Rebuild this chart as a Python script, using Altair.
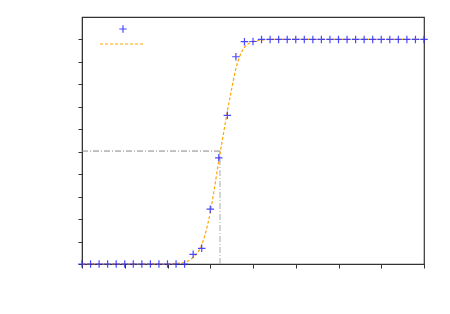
import altair as alt
import pandas as pd

# measured points (41 samples)
pt_x = list(range(41))
pt_y = [0.0] * 13 + [0.043, 0.07, 0.244, 0.473, 0.662, 0.923, 0.99, 0.991] + [1.0] * 20

# fitted curve
fit_x = [0, 10, 11, 12, 13, 14, 15, 15.5, 16, 16.5, 17, 17.5, 18, 18.5, 19, 19.5, 20, 21, 22, 40]
fit_y = [0, 0, 0.002, 0.008, 0.03, 0.085, 0.23, 0.34, 0.46, 0.57, 0.68, 0.78, 0.87, 0.93,
         0.965, 0.982, 0.99, 0.997, 1.0, 1.0]

# midpoint guides
mid_x = 16.14
mid_y = 0.503

pts = pd.DataFrame({"x": pt_x, "y": pt_y})
fit = pd.DataFrame({"x": fit_x, "y": fit_y})
hline = pd.DataFrame({"x": [0, mid_x], "y": [mid_y, mid_y]})
vline = pd.DataFrame({"x": [mid_x, mid_x], "y": [0, mid_y]})

plus = "M-1,0L1,0M0,-1L0,1"
blue = "#2a2aff"
orange = "#ffa500"

xs = alt.Scale(domain=[0, 40], nice=False)
ys = alt.Scale(domain=[0, 1.1], nice=False)
xax = alt.Axis(values=list(range(0, 41, 5)), labels=False, title=None, grid=False,
               tickSize=4, domainColor="#333", tickColor="#333")
yax = alt.Axis(values=[i / 10 for i in range(11)], labels=False, title=None, grid=False,
               tickSize=4, domainColor="#333", tickColor="#333")

X = alt.X("x:Q", scale=xs, axis=xax)
Y = alt.Y("y:Q", scale=ys, axis=yax)

guide_h = alt.Chart(hline).mark_line(color="#888", strokeWidth=1, strokeDash=[6, 2, 1, 2]).encode(x=X, y=Y)
guide_v = alt.Chart(vline).mark_line(color="#aaa", strokeWidth=1, strokeDash=[6, 2, 1, 2]).encode(x=X, y=Y)

fit_line = alt.Chart(fit).mark_line(color=orange, strokeWidth=1.2, strokeDash=[3, 2],
                                    interpolate="monotone").encode(x=X, y=Y)

points = alt.Chart(pts).mark_point(shape=plus, size=56, stroke=blue, strokeWidth=1.2,
                                   opacity=0.85, filled=False).encode(x=X, y=Y)

leg_pt = alt.Chart(pd.DataFrame({"a": [0]})).mark_point(
    shape=plus, size=56, stroke=blue, strokeWidth=1.2, opacity=0.85, filled=False
).encode(x=alt.value(41), y=alt.value(12))
leg_ln = alt.Chart(pd.DataFrame({"a": [0]})).mark_rule(
    color=orange, strokeWidth=1.2, strokeDash=[3, 2]
).encode(x=alt.value(18), x2=alt.value(62), y=alt.value(27))

chart = alt.layer(guide_h, guide_v, fit_line, points, leg_pt, leg_ln).properties(
    width=342, height=247,
    background="white",
    autosize=alt.AutoSizeParams(type="none"),
    padding={"left": 74, "top": 9, "right": 18, "bottom": 42},
).configure_view(stroke="#333", strokeWidth=1.2)

chart.save("out.html", embed_options={"renderer": "svg", "actions": False})
